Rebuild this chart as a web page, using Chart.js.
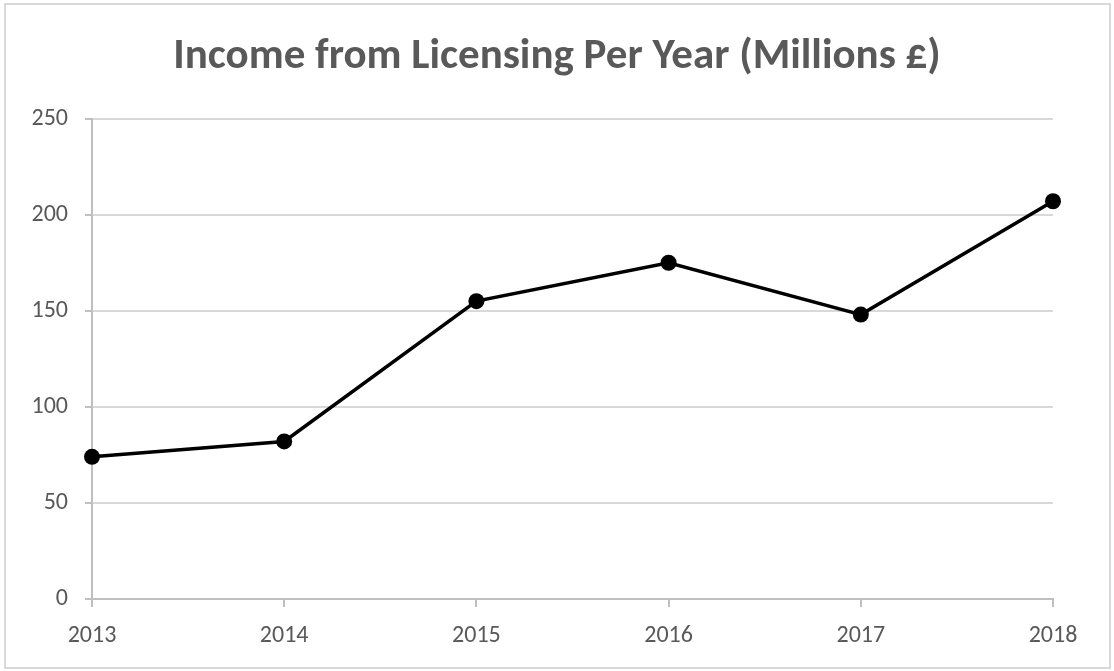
<!DOCTYPE html>
<html>
<head>
<meta charset="utf-8">
<title>Income from Licensing</title>
<script src="https://cdn.jsdelivr.net/npm/chart.js@4"></script>
<style>
  body { margin: 0; background: #fff; }
  #wrap { position: relative; width: 1114px; height: 671px; }
  #frame { position: absolute; left: 4px; top: 3px; width: 1103px; height: 662px;
           border: 2px solid #d9d9d9; pointer-events: none; }
</style>
</head>
<body>
<div id="wrap">
  <canvas id="income-chart" width="1114" height="671"></canvas>
  <div id="frame"></div>
</div>
<script>
// yearly licensing income, millions of pounds
const years = ['2013', '2014', '2015', '2016', '2017', '2018'];
const income = [74, 82, 155, 175, 148, 207];
const yTicks = [0, 50, 100, 150, 200, 250];

const grey = '#595959';
const axisGrey = '#bfbfbf';
const font = "Calibri, Carlito, Lato, sans-serif";

new Chart(document.getElementById('income-chart'), {
  type: 'line',
  data: {
    labels: years,
    datasets: [{
      label: 'Income',
      data: income,
      borderColor: '#000',
      backgroundColor: '#000',
      borderWidth: 3.5,
      pointRadius: 8,
      pointBackgroundColor: '#000',
      pointBorderWidth: 0,
      tension: 0,
      fill: false
    }]
  },
  options: {
    responsive: false,
    animation: false,
    layout: { padding: { left: 10, right: 10, top: 0, bottom: 10 } },
    plugins: {
      legend: { display: false },
      tooltip: { enabled: false },
      title: {
        display: true,
        text: 'Income from Licensing Per Year (Millions £)',
        color: grey,
        font: { family: font, size: 43, weight: 'bold' },
        padding: { top: 31, bottom: 36 }
      }
    },
    scales: {
      x: {
        offset: false,
        grid: { drawOnChartArea: false, tickColor: axisGrey, tickLength: 8, lineWidth: 2 },
        border: { color: axisGrey, width: 2 },
        ticks: { color: grey, font: { family: font, size: 24 }, padding: 15, maxRotation: 0 },
        afterFit: s => { s.height = 62; }
      },
      y: {
        min: 0,
        max: 250,
        afterBuildTicks: s => { s.ticks = yTicks.map(v => ({ value: v })); },
        grid: { color: '#d9d9d9', lineWidth: 2, tickColor: axisGrey, tickLength: 7 },
        border: { color: axisGrey, width: 2 },
        ticks: { color: grey, font: { family: font, size: 24 }, padding: 17 },
        afterFit: s => { s.width = 82; }
      },
      // empty right-hand axis: only reserves space so the plot sits left of the title centre
      spacer: {
        position: 'right',
        grid: { display: false },
        border: { display: false },
        ticks: { display: false },
        afterFit: s => { s.width = 51; }
      }
    }
  }
});
</script>
</body>
</html>
